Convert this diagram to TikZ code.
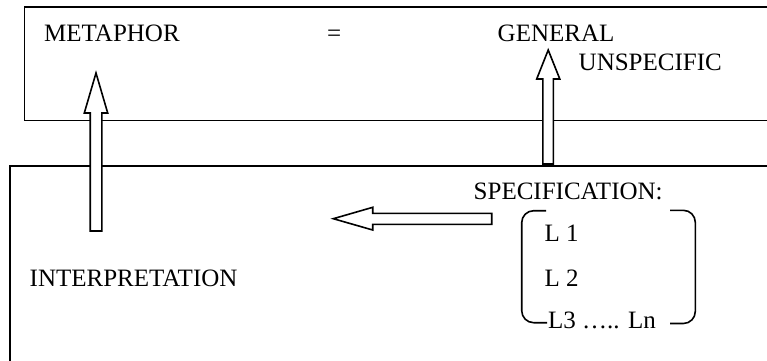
\documentclass[tikz,border=0pt]{standalone}
\usepackage{fontspec}
\setmainfont{Liberation Serif}
\begin{document}
\begin{tikzpicture}[x=1pt,y=-1pt,
  frame/.style={draw=black,line width=1.8pt},
  blockarrow/.style={draw=black,fill=white,line width=1.6pt,line join=miter},
  label/.style={anchor=base west,inner sep=0pt,font=\fontsize{25}{29}\selectfont},
  bracket/.style={draw=black,line width=1.6pt,rounded corners=12pt}]
\useasboundingbox (0,0) rectangle (767,360);
\clip (0,0) rectangle (767,360);
\fill[white] (0,0) rectangle (767,360);

% two frames, both running off the right edge
\draw[frame] (780,7) -- (24.5,7) -- (24.5,120.5) -- (780,120.5);
\draw[frame] (780,165.7) -- (9.8,165.7) -- (9.8,380);

% texts
\node[label] (metaphor) at (44,41.5) {METAPHOR};
\node[label] (equals) at (327,41.5) {=};
\node[label] (general) at (497.5,41.2) {GENERAL};
\node[label] (unspecific) at (578.5,70.2) {UNSPECIFIC};
\node[label] (spec) at (473.5,199.3) {SPECIFICATION:};
\node[label] (interp) at (29.5,286.2) {INTERPRETATION};
\node[label] (l1) at (544.5,241.7) {L 1};
\node[label] (l2) at (544.5,286.7) {L 2};
\node[label] (l3) at (548,328.3) {L3 ….. Ln};

% block arrows
\draw[blockarrow] (90.2,231) -- (90.2,113) -- (84.3,113) -- (96,73) -- (107.7,113)
  -- (101.8,113) -- (101.8,231) -- cycle;
\draw[blockarrow] (542.8,164) -- (542.8,79) -- (536.7,79) -- (548.2,50) -- (559.8,79)
  -- (553.4,79) -- (553.4,164) -- cycle;
\draw[blockarrow] (491.7,213.3) -- (372.7,213.3) -- (372.7,207.3) -- (333.3,218.7)
  -- (372.7,230) -- (372.7,224.3) -- (491.7,224.3) -- cycle;

% brackets around the L list
\draw[bracket] (546,210.7) -- (521.7,210.7) -- (521.7,322.7) -- (547,322.7);
\draw[bracket] (670,210.3) -- (695.3,210.3) -- (695.3,323.5) -- (670,323.5);
\end{tikzpicture}
\end{document}
